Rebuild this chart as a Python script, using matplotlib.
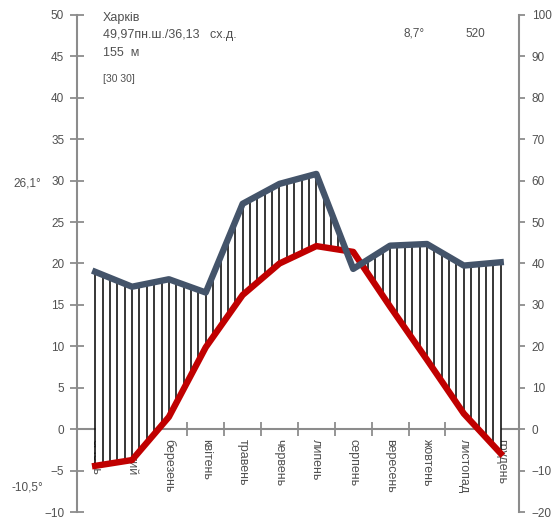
import numpy as np
import matplotlib
matplotlib.use("Agg")
import matplotlib.pyplot as plt

# дані кліматограми (Харків)
misyatsi = ["січень", "лютий", "березень", "квітень", "травень", "червень",
            "липень", "серпень", "вересень", "жовтень", "листопад", "грудень"]
temperatura = [-4.4, -3.7, 1.5, 9.9, 16.2, 20.0, 22.1, 21.4, 14.8, 8.4, 1.9, -2.9]
opady = [38.0, 34.4, 36.2, 33.0, 54.4, 59.2, 61.6, 38.7, 44.3, 44.7, 39.5, 40.3]
temp_ticks = list(range(-10, 51, 5))
opady_ticks = list(range(-20, 101, 10))

plt.rcParams['font.family'] = ['Liberation Sans', 'DejaVu Sans']
siryi = '#8c8c8c'
tekst = '#505050'

fig = plt.figure(figsize=(5.6, 5.19), dpi=100)
ax = fig.add_axes([0.137, 0.0129, 0.790, 0.9588])
ax2 = ax.twinx()

x = np.arange(len(misyatsi))
t = np.array(temperatura)
p = np.array(opady) / 2.0  # опади в масштабі температури

ax.set_xlim(-0.5, 11.5)
ax.set_ylim(-10, 50)
ax2.set_ylim(-20, 100)

# штрихування між опадами та температурою
xs = np.arange(0, 11.001, 0.2)
ti = np.interp(xs, x, t)
pi = np.interp(xs, x, p)
m = pi > ti
ax.fill_between(x, t, p, color='white', zorder=3, linewidth=0, interpolate=True)
ax.vlines(xs[m], ti[m], pi[m], color='black', linewidth=1.1, zorder=3.2)

ax.plot(x, t, color='#c00000', linewidth=4.6, zorder=4)
ax.plot(x, p, color='#44546a', linewidth=4.6, zorder=5)

# осі
for s in ['top', 'right']:
    ax.spines[s].set_visible(False)
ax.spines['bottom'].set_position(('data', 0))
ax.spines['left'].set_color(siryi)
ax.spines['bottom'].set_color(siryi)
ax.spines['left'].set_linewidth(1.5)
ax.spines['bottom'].set_linewidth(1.5)
ax.set_yticks(temp_ticks)
ax.tick_params(axis='y', direction='inout', length=10, width=1.3, color=siryi,
               labelsize=8.5, labelcolor=tekst, pad=4)
ax.set_xticks(x)
ax.set_xticklabels(misyatsi, rotation=270, fontsize=9, color=tekst, va='top')
ax.set_xticks(np.arange(0.5, 11, 1), minor=True)
ax.tick_params(axis='x', which='major', length=0, pad=7)
ax.tick_params(axis='x', which='minor', direction='inout', length=10, width=1.3,
               color=siryi)

for s in ['top', 'left', 'bottom']:
    ax2.spines[s].set_visible(False)
ax2.spines['right'].set_color(siryi)
ax2.spines['right'].set_linewidth(1.5)
ax2.set_yticks(opady_ticks)
ax2.tick_params(axis='y', direction='out', length=4, width=1.3, color=siryi,
                labelsize=8.5, labelcolor=tekst, pad=5)
ax2.set_zorder(ax.get_zorder() - 1)
ax.patch.set_visible(False)

# підписи
fig.text(103 / 560, 1 - 21 / 519, "Харків", fontsize=9, color=tekst)
fig.text(103 / 560, 1 - 38 / 519, "49,97пн.ш./36,13   сх.д.", fontsize=9, color=tekst)
fig.text(103 / 560, 1 - 56 / 519, "155  м", fontsize=9, color=tekst)
fig.text(103 / 560, 1 - 82 / 519, "[30 30]", fontsize=7.5, color=tekst)
fig.text(403 / 560, 1 - 37 / 519, "8,7°", fontsize=8.5, color=tekst)
fig.text(465 / 560, 1 - 37 / 519, "520", fontsize=8.5, color=tekst)
fig.text(13 / 560, 1 - 187 / 519, "26,1°", fontsize=8.5, color=tekst)
fig.text(12 / 560, 1 - 490 / 519, "-10,5°", fontsize=8.5, color=tekst)

fig.savefig("out.png", dpi=100)
